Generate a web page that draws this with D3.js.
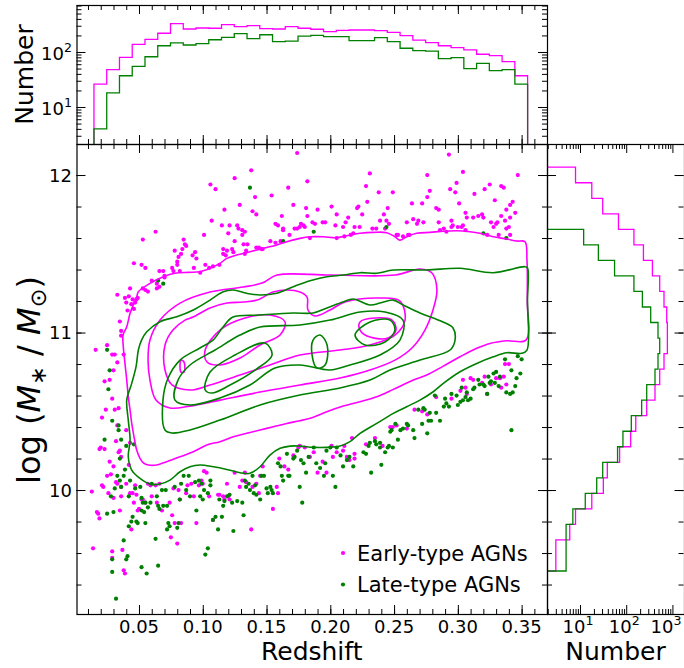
<!DOCTYPE html>
<html>
<head>
<meta charset="utf-8">
<script src="https://cdn.jsdelivr.net/npm/d3@7"></script>
<style>
  body { margin: 0; background: #fff; }
  svg { display: block; }
  text { font-family: "DejaVu Sans", sans-serif; fill: #000; }
</style>
</head>
<body>
<svg id="chart" width="684" height="668"></svg>
<script>
// ---------- data ----------
// Redshift histogram: bins of 0.01 starting at z = 0.0147
const zBinStart = 0.0147, zBinWidth = 0.01;
const earlyZCounts = [26, 48, 80, 138, 170, 219, 327, 262, 273, 270, 314, 288, 301, 265, 262, 288, 270,
  259, 234, 248, 251, 251, 244, 228, 198, 165, 148, 130, 120, 109, 91, 86, 67, 37];
const lateZCounts = [4, 18, 37, 55, 82, 130, 146, 134, 142, 167, 185, 215, 175, 206, 154, 158, 195,
  201, 190, 190, 161, 161, 182, 154, 117, 106, 104, 76, 79, 50, 62, 46, 48, 26];

// Stellar-mass histogram: bins of 0.0986 dex starting at log M = 9.486
const massBinStart = 9.486, massBinWidth = 0.0986;
const earlyMassCounts = [3, 3, 6, 8, 18, 32, 39, 72, 125, 161, 278, 420, 531, 658, 778, 778, 753,
  658, 531, 369, 236, 147, 68, 31, 18, 8];
const lateMassCounts = [5, 5, 5, 7, 13, 23, 31, 65, 85, 129, 216, 278, 420, 488, 531, 488, 339,
  224, 147, 56, 25, 12, 0, 0, 0, 0];

// Individual galaxies lying outside the outermost density contour: [redshift, log M*]
const earlyPoints = [
  [0.033,11.24],[0.035,11.07],[0.036,11.01],[0.036,10.98],[0.039,11.22],[0.040,11.19],[0.041,11.14],[0.042,11.23],
  [0.043,11.28],[0.044,11.18],[0.045,11.21],[0.046,11.15],[0.046,11.44],[0.047,11.19],[0.048,11.21],[0.049,11.22],
  [0.052,11.43],[0.053,11.59],[0.053,11.28],[0.055,11.27],[0.055,11.41],[0.057,11.26],[0.060,11.33],[0.063,11.64],
  [0.064,11.28],[0.064,11.31],[0.066,11.39],[0.066,11.29],[0.069,11.39],[0.070,11.35],[0.070,11.36],[0.076,11.41],
  [0.077,11.39],[0.078,11.52],[0.080,11.43],[0.080,11.45],[0.081,11.48],[0.082,11.39],[0.083,11.50],[0.084,11.53],
  [0.085,11.59],[0.086,11.56],[0.087,11.55],[0.092,11.49],[0.093,11.41],[0.094,11.51],[0.095,11.47],[0.098,11.38],
  [0.101,11.62],[0.102,11.43],[0.105,11.41],[0.106,11.94],[0.107,11.71],[0.108,11.42],[0.110,11.91],[0.113,11.43],
  [0.115,11.68],[0.116,11.53],[0.116,11.50],[0.117,11.78],[0.118,11.49],[0.119,11.52],[0.120,11.63],[0.121,11.68],
  [0.123,11.53],[0.124,11.51],[0.125,11.98],[0.125,11.58],[0.127,11.68],[0.128,11.66],[0.129,11.81],[0.131,11.62],
  [0.131,11.65],[0.132,11.56],[0.133,11.64],[0.133,11.50],[0.134,11.52],[0.135,11.56],[0.138,12.03],[0.139,11.77],
  [0.141,11.86],[0.142,11.75],[0.142,11.54],[0.144,11.54],[0.146,11.53],[0.147,11.53],[0.153,11.58],[0.154,11.87],
  [0.157,11.69],[0.157,11.57],[0.159,11.68],[0.161,11.58],[0.162,11.74],[0.163,11.66],[0.163,11.65],[0.167,11.92],
  [0.168,11.62],[0.171,11.81],[0.172,11.66],[0.174,11.66],[0.174,12.14],[0.176,11.67],[0.177,11.69],[0.179,11.68],
  [0.180,11.67],[0.181,11.79],[0.182,11.74],[0.182,11.96],[0.184,11.60],[0.186,11.70],[0.188,11.69],[0.190,11.78],
  [0.194,11.70],[0.196,11.70],[0.201,11.80],[0.204,11.68],[0.205,11.75],[0.205,11.60],[0.210,11.67],[0.211,11.61],
  [0.212,11.70],[0.214,11.73],[0.216,11.62],[0.218,11.63],[0.219,11.67],[0.221,11.79],[0.222,11.80],[0.223,11.67],
  [0.225,11.75],[0.228,11.93],[0.229,11.83],[0.231,12.01],[0.233,11.66],[0.236,11.66],[0.238,11.89],[0.239,11.71],
  [0.242,11.75],[0.243,11.66],[0.244,11.71],[0.245,11.79],[0.246,11.69],[0.249,11.89],[0.252,11.62],[0.253,11.62],
  [0.257,11.61],[0.260,11.70],[0.261,11.62],[0.262,11.62],[0.264,11.82],[0.265,11.72],[0.268,11.69],[0.269,11.71],
  [0.272,11.82],[0.273,11.70],[0.276,11.86],[0.276,12.00],[0.278,11.90],[0.283,11.79],[0.285,11.78],[0.285,11.70],
  [0.286,11.65],[0.289,11.66],[0.291,11.64],[0.293,12.13],[0.294,11.91],[0.295,11.67],[0.295,11.71],[0.296,11.68],
  [0.298,11.89],[0.299,11.95],[0.300,11.67],[0.301,11.82],[0.303,11.67],[0.304,11.68],[0.304,12.02],[0.306,11.65],
  [0.306,11.76],[0.307,11.73],[0.312,11.73],[0.313,11.88],[0.316,11.74],[0.319,11.75],[0.320,11.73],[0.321,11.91],
  [0.323,11.62],[0.325,11.94],[0.326,11.70],[0.328,11.67],[0.329,11.84],[0.330,11.69],[0.331,11.70],[0.332,11.62],
  [0.334,11.93],[0.334,11.74],[0.336,11.92],[0.337,11.71],[0.338,11.66],[0.338,11.78],[0.340,11.67],[0.341,11.73],
  [0.341,11.62],[0.341,11.81],[0.343,11.83],[0.345,11.76],[0.347,12.00],
  [0.013,9.99],[0.014,9.63],[0.016,10.89],[0.017,9.86],[0.018,9.85],[0.019,9.82],[0.019,10.26],[0.020,10.27],
  [0.021,10.03],[0.021,10.46],[0.022,10.02],[0.023,10.26],[0.023,10.69],[0.024,10.51],[0.025,10.92],[0.025,10.09],
  [0.026,9.98],[0.027,10.18],[0.027,10.70],[0.028,10.10],[0.029,9.61],[0.029,10.86],[0.029,10.58],[0.029,9.57],
  [0.030,10.15],[0.030,10.76],[0.030,9.95],[0.031,10.51],[0.031,10.86],[0.032,10.31],[0.032,10.05],[0.033,10.41],
  [0.033,10.04],[0.033,10.81],[0.034,10.52],[0.034,10.24],[0.035,10.25],[0.035,9.87],[0.036,10.02],[0.036,10.21],
  [0.036,9.96],[0.037,9.62],[0.038,9.49],[0.038,10.86],[0.039,9.47],[0.040,10.38],[0.040,10.04],[0.042,10.16],
  [0.043,10.30],[0.043,9.98],[0.044,9.75],[0.045,9.98],[0.046,9.92],[0.047,10.03],[0.048,9.97],[0.049,9.87],
  [0.050,9.88],[0.052,9.94],[0.053,9.94],[0.055,9.92],[0.057,10.04],[0.059,10.03],[0.060,9.96],[0.063,10.03],
  [0.064,9.92],[0.066,10.04],[0.068,9.87],[0.074,9.92],[0.075,9.70],[0.076,9.84],[0.077,10.01],[0.078,9.79],
  [0.080,9.66],[0.081,10.00],[0.082,9.94],[0.083,9.79],[0.087,9.98],[0.088,10.03],[0.091,10.04],[0.093,9.96],
  [0.095,9.79],[0.097,10.03],[0.099,10.06],[0.100,10.04],[0.101,10.12],[0.103,10.11],[0.105,9.96],[0.108,9.81],
  [0.112,9.97],[0.113,9.97],[0.116,9.96],[0.117,9.94],[0.119,10.04],[0.120,9.96],[0.121,9.94],[0.125,10.11],
  [0.129,10.02],[0.131,10.06],[0.133,10.11],[0.134,10.05],[0.138,9.75],[0.139,10.02],[0.142,10.04],[0.144,9.98],
  [0.145,10.09],[0.147,10.15],[0.155,9.88],[0.158,10.02],[0.159,9.98],[0.160,10.20],[0.164,10.15],[0.167,10.13],
  [0.171,10.22],[0.175,10.27],[0.176,10.28],[0.180,10.27],[0.184,10.21],[0.187,10.24],[0.190,10.11],[0.194,10.18],
  [0.197,10.11],[0.201,10.28],[0.202,10.21],[0.205,10.24],[0.210,10.25],[0.211,10.28],[0.213,10.21],[0.215,10.19],
  [0.217,10.33],[0.219,10.23],[0.219,10.20],[0.228,10.29],[0.235,10.33],[0.241,10.28],[0.247,10.40],[0.249,10.40],
  [0.252,10.41],[0.260,10.39],[0.266,10.51],[0.272,10.50],[0.276,10.48],[0.283,10.59],[0.295,10.58],[0.302,10.63],
  [0.304,10.70],[0.306,10.65],[0.307,10.61],[0.310,10.71],[0.312,10.70],[0.319,10.68],[0.321,10.72],[0.323,10.61],
  [0.326,10.67],[0.330,10.71],[0.333,10.71],[0.334,10.65],[0.336,10.72],[0.337,10.80],[0.338,10.67],[0.340,10.80]
];
const latePoints = [
  [0.065,11.33],[0.069,11.31],[0.137,11.92],[0.163,11.58],[0.187,11.64],[0.244,11.67],[0.320,11.63],[0.338,11.60],
  [0.023,10.32],[0.025,9.85],[0.025,10.89],[0.026,10.64],[0.027,10.76],[0.028,9.96],[0.029,10.44],[0.029,9.56],
  [0.029,9.48],[0.030,9.86],[0.031,10.01],[0.032,9.31],[0.033,10.09],[0.034,10.41],[0.034,10.38],[0.035,10.20],
  [0.035,10.06],[0.036,10.32],[0.036,10.02],[0.038,10.09],[0.038,9.68],[0.039,10.13],[0.040,10.28],[0.040,9.56],
  [0.041,9.58],[0.042,9.96],[0.042,9.77],[0.043,10.06],[0.044,9.80],[0.045,9.83],[0.046,10.29],[0.047,10.01],
  [0.048,9.80],[0.049,9.79],[0.051,10.02],[0.052,9.95],[0.052,9.87],[0.052,9.51],[0.053,9.92],[0.054,9.86],
  [0.055,9.92],[0.055,9.79],[0.056,9.47],[0.057,9.89],[0.059,9.92],[0.060,10.04],[0.063,9.69],[0.064,9.96],
  [0.065,9.52],[0.065,9.90],[0.066,9.88],[0.068,10.00],[0.069,9.90],[0.071,10.00],[0.072,9.90],[0.072,9.75],
  [0.073,9.79],[0.074,9.77],[0.078,10.02],[0.080,9.76],[0.081,9.79],[0.082,9.94],[0.083,10.04],[0.085,10.09],
  [0.087,10.00],[0.089,10.09],[0.090,9.96],[0.094,10.05],[0.095,9.87],[0.097,10.06],[0.098,9.96],[0.099,10.04],
  [0.100,9.94],[0.101,10.00],[0.102,9.59],[0.104,9.63],[0.104,9.98],[0.106,10.06],[0.106,10.03],[0.108,9.81],
  [0.110,9.83],[0.112,9.75],[0.113,9.94],[0.115,9.83],[0.116,9.90],[0.117,9.93],[0.119,9.96],[0.121,9.97],
  [0.123,9.92],[0.124,9.74],[0.127,9.93],[0.131,9.92],[0.132,9.84],[0.133,10.06],[0.134,10.02],[0.136,10.04],
  [0.137,10.00],[0.139,10.09],[0.140,9.98],[0.141,10.03],[0.142,9.97],[0.145,9.94],[0.146,10.09],[0.148,10.09],
  [0.150,10.01],[0.151,9.98],[0.153,10.02],[0.154,10.00],[0.155,9.98],[0.159,10.17],[0.161,10.15],[0.162,10.09],
  [0.163,10.06],[0.166,10.23],[0.167,10.09],[0.168,10.09],[0.171,10.20],[0.172,10.21],[0.174,10.25],[0.176,10.02],
  [0.177,10.19],[0.178,9.92],[0.179,10.17],[0.181,10.11],[0.183,10.21],[0.187,10.27],[0.189,10.17],[0.192,10.14],
  [0.195,10.09],[0.196,10.17],[0.197,10.25],[0.200,10.27],[0.202,10.09],[0.204,10.02],[0.205,10.27],[0.208,10.22],
  [0.210,10.15],[0.213,10.19],[0.215,10.21],[0.218,10.15],[0.226,10.24],[0.228,10.23],[0.230,10.28],[0.231,10.30],
  [0.232,10.11],[0.235,10.31],[0.236,10.29],[0.239,10.27],[0.239,10.30],[0.240,10.16],[0.243,10.24],[0.245,10.27],
  [0.246,10.28],[0.247,10.37],[0.248,10.38],[0.249,10.27],[0.251,10.42],[0.253,10.32],[0.255,10.38],[0.257,10.39],
  [0.260,10.42],[0.261,10.41],[0.265,10.38],[0.266,10.33],[0.269,10.51],[0.272,10.42],[0.273,10.52],[0.274,10.51],
  [0.276,10.36],[0.277,10.44],[0.278,10.49],[0.279,10.44],[0.282,10.60],[0.283,10.49],[0.286,10.44],[0.289,10.53],
  [0.290,10.58],[0.291,10.55],[0.293,10.53],[0.295,10.61],[0.299,10.60],[0.300,10.54],[0.302,10.56],[0.303,10.65],
  [0.304,10.57],[0.306,10.59],[0.307,10.62],[0.308,10.57],[0.310,10.58],[0.312,10.64],[0.313,10.65],[0.316,10.70],
  [0.317,10.67],[0.320,10.67],[0.321,10.66],[0.323,10.61],[0.324,10.72],[0.325,10.68],[0.326,10.69],[0.328,10.74],
  [0.329,10.68],[0.330,10.75],[0.332,10.66],[0.333,10.72],[0.337,10.83],[0.338,10.62],[0.341,10.61],[0.342,10.76],
  [0.342,10.38],[0.343,10.62],[0.345,10.66],[0.346,10.71],[0.347,10.85],[0.349,10.74],[0.350,10.83]
];

// Density contours (closed loops), vertices in [redshift, log M*]
const earlyContours = [
  [[0.0495,11.259],[0.0586,11.312],[0.0691,11.354],[0.0782,11.376],[0.0887,11.382],[0.0978,11.386],[0.1057,11.408],
   [0.1135,11.439],[0.1188,11.471],[0.1266,11.492],[0.1370,11.513],[0.1475,11.535],[0.1580,11.556],[0.1658,11.577],
   [0.1762,11.598],[0.1841,11.608],[0.1945,11.608],[0.2050,11.602],[0.2154,11.619],[0.2233,11.630],[0.2337,11.636],
   [0.2442,11.634],[0.2507,11.608],[0.2546,11.587],[0.2599,11.608],[0.2677,11.630],[0.2782,11.636],[0.2886,11.643],
   [0.2991,11.646],[0.3095,11.640],[0.3174,11.630],[0.3278,11.608],[0.3383,11.594],[0.3461,11.581],[0.3526,11.577],
   [0.3542,11.460],[0.3544,11.206],[0.3534,10.952],[0.3383,10.948],[0.3252,10.931],[0.3148,10.900],[0.3017,10.846],
   [0.2886,10.787],[0.2756,10.730],[0.2651,10.698],[0.2494,10.639],[0.2364,10.592],[0.2233,10.561],[0.2102,10.533],
   [0.1972,10.497],[0.1867,10.462],[0.1762,10.440],[0.1658,10.423],[0.1553,10.402],[0.1449,10.381],[0.1344,10.360],
   [0.1239,10.338],[0.1135,10.307],[0.1031,10.286],[0.0926,10.243],[0.0822,10.211],[0.0717,10.180],[0.0639,10.159],
   [0.0573,10.159],[0.0534,10.173],[0.0508,10.201],[0.0482,10.254],[0.0461,10.338],[0.0443,10.423],[0.0430,10.508],
   [0.0416,10.592],[0.0404,10.698],[0.0390,10.804],[0.0377,10.910],[0.0375,10.984],[0.0404,11.037],[0.0430,11.122],
   [0.0455,11.175],[0.0482,11.227]],
  [[0.0586,10.952],[0.0665,11.079],[0.0822,11.187],[0.1057,11.257],[0.1316,11.289],[0.1465,11.314],[0.1582,11.365],
   [0.1998,11.365],[0.2507,11.365],[0.2703,11.403],[0.2797,11.378],[0.2836,11.270],[0.2805,11.143],[0.2742,11.016],
   [0.2640,10.902],[0.2507,10.825],[0.2311,10.762],[0.2076,10.711],[0.1762,10.667],[0.1449,10.622],[0.1135,10.571],
   [0.0900,10.533],[0.0743,10.521],[0.0633,10.571],[0.0586,10.698],[0.0571,10.825]],
  [[0.0704,10.921],[0.0766,11.016],[0.0861,11.079],[0.0924,11.098],[0.1057,11.156],[0.1190,11.187],[0.1316,11.194],
   [0.1425,11.206],[0.1551,11.257],[0.1661,11.270],[0.1762,11.257],[0.1818,11.225],[0.1825,11.143],[0.1880,11.105],
   [0.1998,11.143],[0.2115,11.194],[0.2390,11.219],[0.2546,11.200],[0.2586,11.079],[0.2507,10.984],[0.2311,10.921],
   [0.2076,10.889],[0.1762,10.857],[0.1527,10.794],[0.1292,10.730],[0.1057,10.667],[0.0900,10.635],[0.0759,10.667],
   [0.0704,10.762]],
  [[0.1019,10.889],[0.1135,11.016],[0.1331,11.092],[0.1527,11.111],[0.1645,11.067],[0.1606,10.984],[0.1449,10.921],
   [0.1292,10.838],[0.1135,10.794],[0.1033,10.813]],
  [[0.2233,11.067],[0.2350,11.092],[0.2484,11.079],[0.2515,11.016],[0.2452,10.965],[0.2311,10.971],[0.2233,11.016]],
  [[0.0829,10.825],[0.0853,10.813],[0.0853,10.749],[0.0829,10.749]]
];
const lateContours = [
  [[0.0520,10.952],[0.0561,11.005],[0.0665,11.069],[0.0796,11.100],[0.0926,11.143],[0.1057,11.206],[0.1161,11.259],
   [0.1239,11.270],[0.1344,11.249],[0.1449,11.238],[0.1580,11.249],[0.1710,11.291],[0.1841,11.329],[0.1972,11.354],
   [0.2102,11.365],[0.2233,11.380],[0.2364,11.376],[0.2494,11.397],[0.2756,11.397],[0.3017,11.408],[0.3278,11.380],
   [0.3526,11.418],[0.3546,11.410],[0.3546,11.206],[0.3542,10.889],[0.3500,10.868],[0.3383,10.872],[0.3278,10.846],
   [0.3148,10.804],[0.3017,10.751],[0.2886,10.677],[0.2807,10.624],[0.2703,10.571],[0.2599,10.529],[0.2494,10.487],
   [0.2364,10.423],[0.2233,10.360],[0.2154,10.307],[0.2076,10.279],[0.1972,10.271],[0.1867,10.271],[0.1762,10.279],
   [0.1684,10.279],[0.1606,10.265],[0.1527,10.222],[0.1449,10.148],[0.1370,10.106],[0.1292,10.110],[0.1188,10.131],
   [0.1083,10.148],[0.0978,10.159],[0.0900,10.148],[0.0822,10.116],[0.0743,10.063],[0.0665,10.038],[0.0586,10.038],
   [0.0508,10.074],[0.0443,10.127],[0.0416,10.211],[0.0430,10.317],[0.0416,10.444],[0.0404,10.571],[0.0443,10.677],
   [0.0477,10.783],[0.0495,10.889]],
  [[0.0704,10.381],[0.0688,10.571],[0.0728,10.711],[0.0822,10.825],[0.0978,10.902],[0.1080,10.952],[0.1159,11.035],
   [0.1237,11.098],[0.1449,11.111],[0.1708,11.124],[0.1864,11.124],[0.1974,11.156],[0.2099,11.194],[0.2178,11.213],
   [0.2311,11.175],[0.2390,11.187],[0.2492,11.206],[0.2570,11.175],[0.2703,11.124],[0.2883,11.067],[0.2962,11.029],
   [0.2978,10.952],[0.2939,10.889],[0.2703,10.825],[0.2468,10.762],[0.2311,10.698],[0.2076,10.648],[0.1762,10.603],
   [0.1449,10.540],[0.1135,10.444],[0.0900,10.381],[0.0759,10.362]],
  [[0.0782,10.571],[0.0806,10.698],[0.0900,10.794],[0.1096,10.889],[0.1292,10.984],[0.1449,11.035],[0.1762,11.048],
   [0.1998,11.079],[0.2233,11.130],[0.2429,11.130],[0.2570,11.079],[0.2546,10.952],[0.2390,10.857],[0.2154,10.794],
   [0.1998,10.762],[0.1762,10.794],[0.1566,10.775],[0.1370,10.667],[0.1135,10.584],[0.0900,10.540]],
  [[0.1019,10.635],[0.1057,10.749],[0.1253,10.857],[0.1488,10.933],[0.1543,10.857],[0.1410,10.762],[0.1214,10.667],
   [0.1072,10.616]],
  [[0.1865,10.952],[0.1920,10.984],[0.1975,10.921],[0.1959,10.794],[0.1896,10.775],[0.1857,10.857]],
  [[0.2194,10.984],[0.2311,11.067],[0.2468,11.079],[0.2507,11.016],[0.2429,10.940],[0.2272,10.921]]
];

// Axis ticks
const zMajor = [0.05, 0.10, 0.15, 0.20, 0.25, 0.30, 0.35];
const zMinor = d3.range(1, 37).map(i => i / 100);
const massMajor = [10, 11, 12];
const massMinor = d3.range(47, 61).map(i => i / 5);
const topCountMajor = [10, 100];
const topCountMinor = [3, 4, 5, 6, 7, 8, 9, 20, 30, 40, 50, 60, 70, 80, 90, 200, 300, 400, 500, 600, 700];
const sideCountMajor = [10, 100, 1000];
const sideCountMinor = [2, 3, 4, 5, 6, 7, 8, 9, 20, 30, 40, 50, 60, 70, 80, 90, 200, 300, 400, 500, 600, 700, 800, 900];

const EARLY = "#ff00ff", LATE = "#008000";

// ---------- layout ----------
const svg = d3.select("#chart");
const mainBox = { l: 76.5, r: 547, t: 144, b: 614 };
const topBox = { l: 76.5, r: 547, t: 5, b: 144 };
const sideBox = { l: 547, r: 684, t: 144, b: 614 };

const x = d3.scaleLinear().domain([0.001, 0.3699]).range([mainBox.l, mainBox.r]);
const y = d3.scaleLinear().domain([9.213, 12.197]).range([mainBox.b, mainBox.t]);
const yTop = d3.scaleLog().domain([2.125, 715]).range([topBox.b, topBox.t]);
const xSide = d3.scaleLog().domain([1.931, 1782]).range([sideBox.l, sideBox.r]);

const defs = svg.append("defs");
function clip(id, box) {
  defs.append("clipPath").attr("id", id).append("rect")
    .attr("x", box.l).attr("y", box.t).attr("width", box.r - box.l).attr("height", box.b - box.t);
}
clip("clipMain", mainBox); clip("clipTop", topBox); clip("clipSide", sideBox);

// ---------- main panel ----------
const gMain = svg.append("g").attr("clip-path", "url(#clipMain)");

gMain.append("g").selectAll("circle").data(earlyPoints).join("circle")
  .attr("cx", d => x(d[0])).attr("cy", d => y(d[1])).attr("r", 2.1).attr("fill", EARLY);
gMain.append("g").selectAll("circle").data(latePoints).join("circle")
  .attr("cx", d => x(d[0])).attr("cy", d => y(d[1])).attr("r", 2.1).attr("fill", LATE);

const loop = d3.line().x(d => x(d[0])).y(d => y(d[1])).curve(d3.curveCatmullRomClosed.alpha(0.5));
gMain.append("g").selectAll("path").data(earlyContours).join("path")
  .attr("d", loop).attr("fill", "none").attr("stroke", EARLY).attr("stroke-width", 1.6);
gMain.append("g").selectAll("path").data(lateContours).join("path")
  .attr("d", loop).attr("fill", "none").attr("stroke", LATE).attr("stroke-width", 1.6);

// ---------- top histogram (redshift) ----------
const zEdges = d3.range(earlyZCounts.length + 1).map(i => zBinStart + i * zBinWidth);
function stepTop(counts) {
  const floor = yTop.domain()[0];
  const pts = [[x(zEdges[0]), topBox.b]];
  counts.forEach((c, i) => {
    const yy = yTop(Math.max(c, floor));
    pts.push([x(zEdges[i]), yy], [x(zEdges[i + 1]), yy]);
  });
  pts.push([x(zEdges[zEdges.length - 1]), topBox.b]);
  return d3.line()(pts);
}
const gTop = svg.append("g").attr("clip-path", "url(#clipTop)");
gTop.append("path").attr("d", stepTop(earlyZCounts)).attr("fill", "none").attr("stroke", EARLY).attr("stroke-width", 1.3);
gTop.append("path").attr("d", stepTop(lateZCounts)).attr("fill", "none").attr("stroke", LATE).attr("stroke-width", 1.3);

// ---------- side histogram (stellar mass) ----------
const mEdges = d3.range(earlyMassCounts.length + 1).map(i => massBinStart + i * massBinWidth);
function stepSide(counts) {
  const floor = xSide.domain()[0];
  const pts = [[sideBox.l, y(mEdges[0])]];
  counts.forEach((c, i) => {
    const xx = xSide(Math.max(c, floor));
    pts.push([xx, y(mEdges[i])], [xx, y(mEdges[i + 1])]);
  });
  pts.push([sideBox.l, y(mEdges[mEdges.length - 1])]);
  return d3.line()(pts);
}
const gSide = svg.append("g").attr("clip-path", "url(#clipSide)");
gSide.append("path").attr("d", stepSide(earlyMassCounts)).attr("fill", "none").attr("stroke", EARLY).attr("stroke-width", 1.3);
gSide.append("path").attr("d", stepSide(lateMassCounts)).attr("fill", "none").attr("stroke", LATE).attr("stroke-width", 1.3);

// ---------- ticks ----------
const axisMaker = { bottom: d3.axisBottom, top: d3.axisTop, left: d3.axisLeft, right: d3.axisRight };
function ticks(orient, scale, vals, len, tx, ty) {
  const a = axisMaker[orient](scale).tickValues(vals).tickSize(-len).tickFormat("");
  const g = svg.append("g").attr("transform", `translate(${tx},${ty})`).call(a);
  g.select(".domain").remove();
  g.selectAll("line").attr("stroke", "#000").attr("stroke-width", 1);
}
const MAJ = 9, MIN = 5;
// main
ticks("bottom", x, zMinor, MIN, 0, mainBox.b); ticks("bottom", x, zMajor, MAJ, 0, mainBox.b);
ticks("top", x, zMinor, MIN, 0, mainBox.t); ticks("top", x, zMajor, MAJ, 0, mainBox.t);
ticks("left", y, massMinor, MIN, mainBox.l, 0); ticks("left", y, massMajor, MAJ, mainBox.l, 0);
ticks("right", y, massMinor, MIN, mainBox.r, 0); ticks("right", y, massMajor, MAJ, mainBox.r, 0);
// top histogram
ticks("bottom", x, zMinor, MIN, 0, topBox.b); ticks("bottom", x, zMajor, MAJ, 0, topBox.b);
ticks("top", x, zMinor, MIN, 0, topBox.t); ticks("top", x, zMajor, MAJ, 0, topBox.t);
ticks("left", yTop, topCountMinor, MIN, topBox.l, 0); ticks("left", yTop, topCountMajor, MAJ, topBox.l, 0);
ticks("right", yTop, topCountMinor, MIN, topBox.r, 0); ticks("right", yTop, topCountMajor, MAJ, topBox.r, 0);
// side histogram
ticks("left", y, massMinor, MIN, sideBox.l, 0); ticks("left", y, massMajor, MAJ, sideBox.l, 0);
ticks("right", y, massMinor, MIN, sideBox.r - 0.5, 0); ticks("right", y, massMajor, MAJ, sideBox.r - 0.5, 0);
ticks("bottom", xSide, sideCountMinor, MIN, 0, sideBox.b); ticks("bottom", xSide, sideCountMajor, MAJ, 0, sideBox.b);
ticks("top", xSide, sideCountMinor, MIN, 0, sideBox.t); ticks("top", xSide, sideCountMajor, MAJ, 0, sideBox.t);

// ---------- frames ----------
[mainBox, topBox, sideBox].forEach(b => {
  svg.append("rect").attr("x", b.l + 0.5).attr("y", b.t + 0.5)
    .attr("width", b.r - b.l).attr("height", b.b - b.t)
    .attr("fill", "none").attr("stroke", "#000").attr("stroke-width", 1.2);
});

// ---------- tick labels ----------
const TICK_FS = 18;
svg.append("g").selectAll("text").data(zMajor).join("text")
  .attr("x", d => x(d)).attr("y", mainBox.b + 19).attr("text-anchor", "middle")
  .attr("font-size", TICK_FS).text(d => d3.format(".2f")(d));
svg.append("g").selectAll("text").data(massMajor).join("text")
  .attr("x", mainBox.l - 4.5).attr("y", d => y(d) + 6.5).attr("text-anchor", "end")
  .attr("font-size", TICK_FS).text(d => d);

function powLabel(sel, d) {
  const e = Math.round(Math.log10(d));
  sel.append("tspan").text("10");
  sel.append("tspan").attr("font-size", TICK_FS * 0.7).attr("dy", -8).text(e);
}
svg.append("g").selectAll("text").data(topCountMajor).join("text")
  .attr("x", topBox.l - 4.5).attr("y", d => yTop(d) + 8).attr("text-anchor", "end")
  .attr("font-size", TICK_FS).each(function (d) { powLabel(d3.select(this), d); });
// the last label sits against the page edge, so it is held inside it
svg.append("g").selectAll("text").data(sideCountMajor).join("text")
  .attr("x", d => Math.min(xSide(d) - 2, sideBox.r - 18)).attr("y", mainBox.b + 19)
  .attr("text-anchor", "middle")
  .attr("font-size", TICK_FS).each(function (d) { powLabel(d3.select(this), d); });

// ---------- axis titles ----------
const LAB_FS = 25;
svg.append("text").attr("x", (mainBox.l + mainBox.r) / 2).attr("y", 660).attr("text-anchor", "middle")
  .attr("font-size", LAB_FS).text("Redshift");
svg.append("text").attr("x", (sideBox.l + sideBox.r) / 2).attr("y", 660).attr("text-anchor", "middle")
  .attr("font-size", LAB_FS).text("Number");
svg.append("text").attr("transform", `translate(33,${(topBox.t + topBox.b) / 2}) rotate(-90)`)
  .attr("text-anchor", "middle").attr("font-size", LAB_FS).text("Number");

const YL_FS = 32;
const yl = svg.append("text").attr("transform", `translate(40,${(mainBox.t + mainBox.b) / 2 + 1}) rotate(-90)`)
  .attr("text-anchor", "middle").attr("font-size", YL_FS);
yl.append("tspan").text("log (");
yl.append("tspan").attr("font-style", "italic").text("M");
yl.append("tspan").attr("font-size", YL_FS * 0.7).attr("dy", 6).text("∗");
yl.append("tspan").attr("dy", -6).text(" / ");
yl.append("tspan").attr("font-style", "italic").text("M");
yl.append("tspan").attr("font-size", YL_FS * 0.7).attr("dy", 6).text("⊙");
yl.append("tspan").attr("dy", -6).text(")");

// ---------- legend ----------
const legend = [
  { label: "Early-type AGNs", color: EARLY },
  { label: "Late-type AGNs", color: LATE }
];
const lg = svg.append("g").attr("transform", "translate(343,553)");
legend.forEach((d, i) => {
  lg.append("circle").attr("cx", 0).attr("cy", i * 31.5).attr("r", 2.1).attr("fill", d.color);
  lg.append("text").attr("x", 14).attr("y", i * 31.5 + 7.5).attr("font-size", 21).text(d.label);
});
</script>
</body>
</html>
